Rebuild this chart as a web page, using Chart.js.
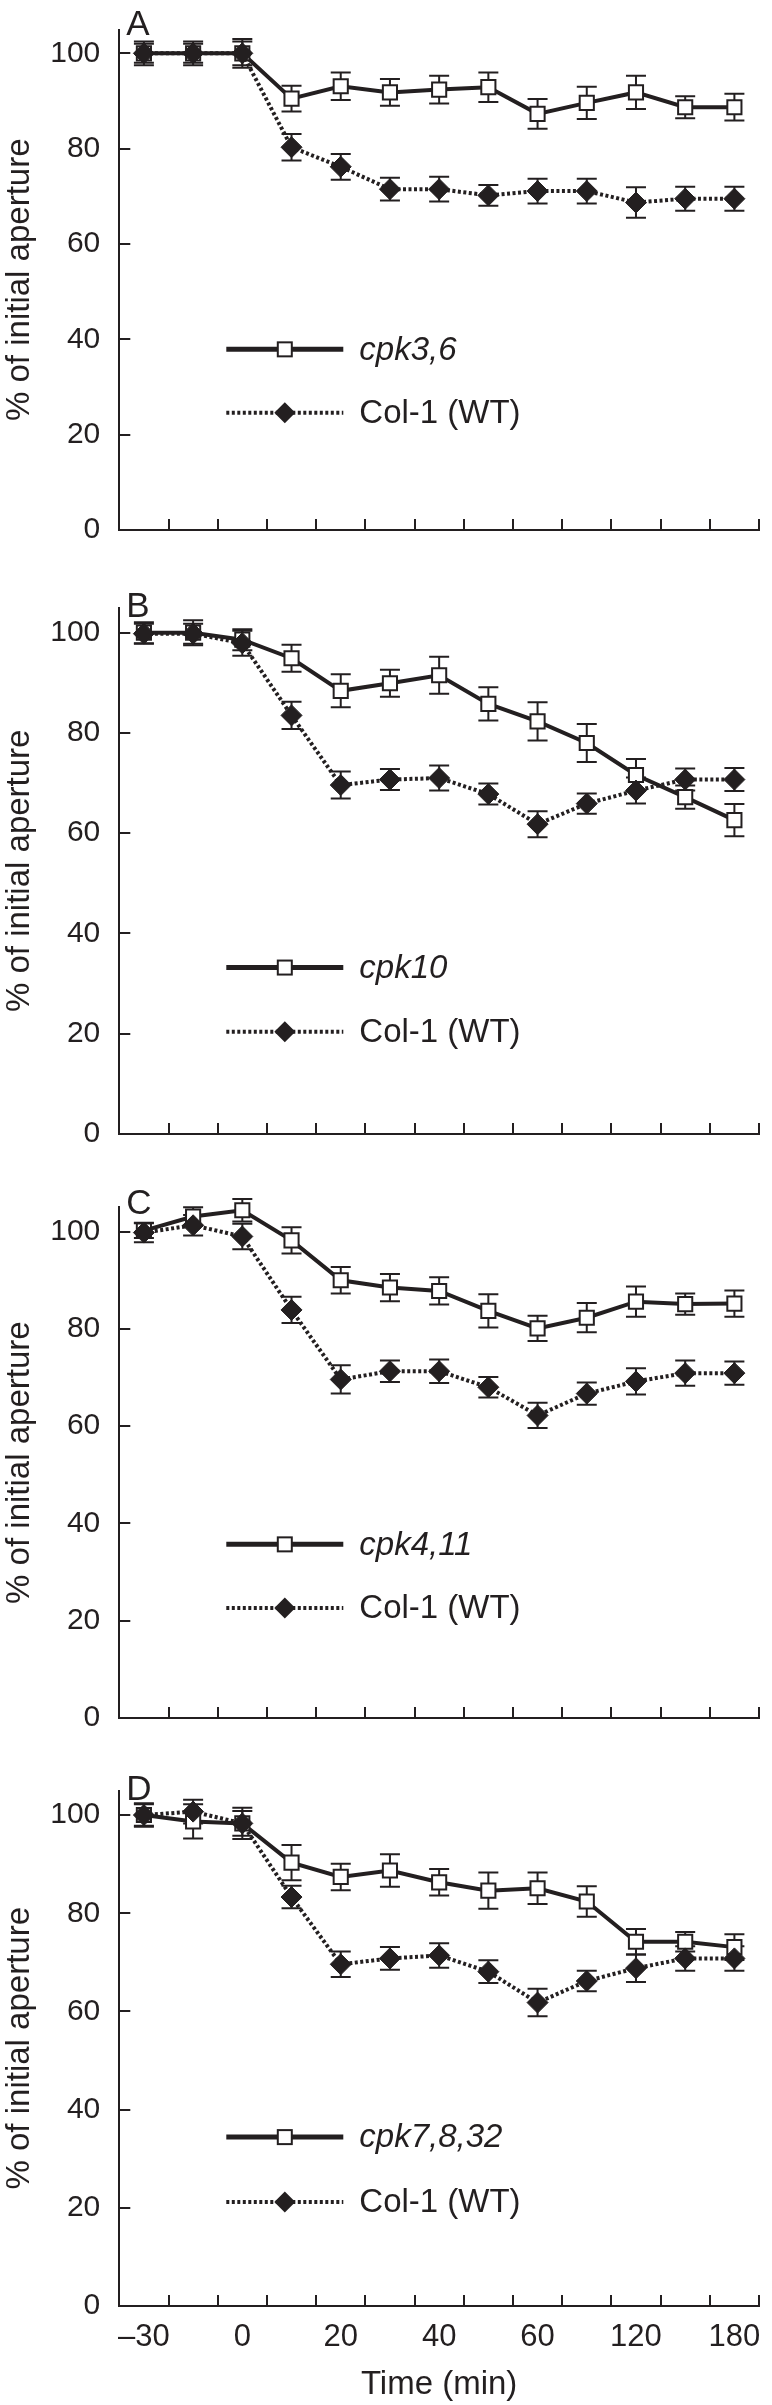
<!DOCTYPE html>
<html><head><meta charset="utf-8">
<script src="https://cdn.jsdelivr.net/npm/chart.js@4.4.0/dist/chart.umd.min.js"></script>
<style>
html,body{margin:0;padding:0;background:#fff;}
#wrap{position:relative;width:772px;height:2405px;overflow:hidden;}
#wrap canvas{position:absolute;left:0;}
</style></head><body><div id="wrap"></div>
<script>
// ---- data ----
const xTickLabels = ['\u201330','','0','','20','','40','','60','','120','','180'];
const yTicks = [0,20,40,60,80,100];
const wtName = 'Col-1 (WT)';

const A_name = 'cpk3,6';
const A_cpk = [100,100,100,90.5,93.1,91.8,92.4,92.9,87.3,89.6,91.8,88.7,88.7];
const A_cpk_err = [2,2,3,2.7,2.9,2.8,2.9,3.1,3.1,3.4,3.5,2.3,2.8];
const A_wt = [100,100,100,80.3,76.2,71.5,71.5,70.2,71.1,71.1,68.7,69.5,69.5];
const A_wt_err = [2.5,2.5,2.5,2.8,2.7,2.4,2.6,2.2,2.6,2.6,3.2,2.5,2.5];

const B_name = 'cpk10';
const B_cpk = [100,100,98.6,94.9,88.4,89.9,91.5,85.8,82.3,78.0,71.6,67.2,62.6];
const B_cpk_err = [2.1,2.5,2.1,2.7,3.3,2.7,3.7,3.3,3.8,3.8,3.2,2.3,3.2];
const B_wt = [99.8,99.8,97.9,83.5,69.6,70.7,71.0,67.8,61.8,65.9,68.5,70.7,70.7];
const B_wt_err = [2,2,2.5,2.7,2.7,2.1,2.5,2.1,2.6,2.0,2.6,2.2,2.3];

const C_name = 'cpk4,11';
const C_cpk = [100.2,103.1,104.4,98.2,90.0,88.5,87.8,83.7,80.1,82.3,85.6,85.1,85.2];
const C_cpk_err = [1.5,1.9,2.3,2.7,2.7,2.8,2.8,3.4,2.6,3.0,3.1,2.2,2.7];
const C_wt = [99.8,101.3,99.0,83.9,69.6,71.3,71.3,68.0,62.2,66.7,69.2,70.9,70.9];
const C_wt_err = [2,2.1,2.6,2.7,2.9,2.2,2.4,2.1,2.6,2.3,2.7,2.6,2.4];

const D_name = 'cpk7,8,32';
const D_cpk = [100,98.7,98.3,90.3,87.4,88.7,86.3,84.6,85.1,82.4,74.2,74.2,73.1];
const D_cpk_err = [2.2,3.5,2.5,3.6,2.7,3.3,2.7,3.7,3.2,3.1,2.6,2.0,2.6];
const D_wt = [100,100.7,98.3,83.3,69.6,70.8,71.4,68.1,61.8,66.2,68.8,70.8,70.8];
const D_wt_err = [2.4,2.4,3.2,2.3,2.6,2.3,2.5,2.3,2.8,2.1,2.8,2.5,2.5];

// ---- layout / style ----
const INK = '#231f20';
const FONT = "'Liberation Sans', Arial, Helvetica, sans-serif";

const panels = [
  {letter:'A', name:A_name, mut:A_cpk, mutErr:A_cpk_err, wt:A_wt, wtErr:A_wt_err,
   top:0, height:560, areaTop:29.5, areaBottom:530, legendY:[37.9,24.6], letterDy:5.5, showX:false},
  {letter:'B', name:B_name, mut:B_cpk, mutErr:B_cpk_err, wt:B_wt, wtErr:B_wt_err,
   top:560, height:590, areaTop:607.6, areaBottom:1134, legendY:[33.2,20.4], letterDy:9, showX:false},
  {letter:'C', name:C_name, mut:C_cpk, mutErr:C_cpk_err, wt:C_wt, wtErr:C_wt_err,
   top:1150, height:580, areaTop:1207.3, areaBottom:1718.3, legendY:[35.7,22.6], letterDy:7, showX:false},
  {letter:'D', name:D_name, mut:D_cpk, mutErr:D_cpk_err, wt:D_wt, wtErr:D_wt_err,
   top:1730, height:675, areaTop:1790.5, areaBottom:2306, legendY:[34.4,21.2], letterDy:9.5, showX:true}
];

function drawSquare(ctx, x, y, half) {
  ctx.fillStyle = '#fff';
  ctx.fillRect(x - half, y - half, 2 * half, 2 * half);
  ctx.lineWidth = 2; ctx.strokeStyle = INK; ctx.setLineDash([]);
  ctx.strokeRect(x - half, y - half, 2 * half, 2 * half);
}
function drawDiamond(ctx, x, y, r) {
  ctx.fillStyle = INK;
  ctx.beginPath();
  ctx.moveTo(x - r, y); ctx.lineTo(x, y - r); ctx.lineTo(x + r, y); ctx.lineTo(x, y + r);
  ctx.closePath(); ctx.fill();
}

function decor(p) {
  return {
    id: 'decor' + p.letter,
    beforeDatasetsDraw(chart) {
      const ctx = chart.ctx, ys = chart.scales.y;
      ctx.save();
      ctx.strokeStyle = INK; ctx.lineWidth = 2; ctx.setLineDash([]);
      chart.data.datasets.forEach((ds, di) => {
        const meta = chart.getDatasetMeta(di);
        meta.data.forEach((pt, i) => {
          const v = ds.data[i], e = ds.errors[i];
          const yt = ys.getPixelForValue(v + e), yb = ys.getPixelForValue(v - e);
          ctx.beginPath();
          ctx.moveTo(pt.x, yt); ctx.lineTo(pt.x, yb);
          ctx.moveTo(pt.x - 10, yt); ctx.lineTo(pt.x + 10, yt);
          ctx.moveTo(pt.x - 10, yb); ctx.lineTo(pt.x + 10, yb);
          ctx.stroke();
        });
      });
      ctx.restore();
    },
    afterDraw(chart) {
      const ctx = chart.ctx, a = chart.chartArea, ys = chart.scales.y, xs = chart.scales.x;
      ctx.save();
      ctx.strokeStyle = INK; ctx.lineWidth = 2; ctx.setLineDash([]);
      // inward y ticks
      yTicks.forEach(v => {
        if (v === 0) return;
        const y = Math.round(ys.getPixelForValue(v));
        ctx.beginPath(); ctx.moveTo(a.left, y); ctx.lineTo(a.left + 11, y); ctx.stroke();
      });
      // inward x ticks at category boundaries
      const n = xTickLabels.length;
      const half = (xs.getPixelForValue(1) - xs.getPixelForValue(0)) / 2;
      for (let i = 0; i < n; i++) {
        const bx = Math.round(xs.getPixelForValue(i) + half);
        ctx.beginPath(); ctx.moveTo(bx, a.bottom); ctx.lineTo(bx, a.bottom - 11); ctx.stroke();
      }
      // legend
      const lx0 = a.left + 107, lx1 = a.left + 224, lxm = (lx0 + lx1) / 2, tx = a.left + 240;
      ctx.textBaseline = 'middle'; ctx.textAlign = 'left'; ctx.fillStyle = INK;
      [0, 1].forEach(k => {
        const y = ys.getPixelForValue(p.legendY[k]);
        ctx.strokeStyle = INK; ctx.lineWidth = k === 0 ? 5 : 4;
        ctx.setLineDash(k === 0 ? [] : [3, 2.5]);
        ctx.beginPath(); ctx.moveTo(lx0, y); ctx.lineTo(lx1, y); ctx.stroke();
        ctx.setLineDash([]);
        if (k === 0) drawSquare(ctx, lxm, y, 7); else drawDiamond(ctx, lxm, y, 10.5);
        ctx.fillStyle = INK;
        ctx.font = (k === 0 ? 'italic ' : '') + '33px ' + FONT;
        ctx.fillText(k === 0 ? p.name : wtName, tx, y + 1);
      });
      // panel letter
      ctx.font = '35px ' + FONT; ctx.textBaseline = 'alphabetic'; ctx.fillStyle = INK;
      ctx.fillText(p.letter, a.left + 7, a.top + p.letterDy);
      ctx.restore();
    }
  };
}

const wrap = document.getElementById('wrap');
panels.forEach(p => {
  const cv = document.createElement('canvas');
  cv.width = 772; cv.height = p.height;
  cv.style.top = p.top + 'px'; cv.style.width = '772px'; cv.style.height = p.height + 'px';
  wrap.appendChild(cv);
  const padTop = p.areaTop - p.top;
  const padBottom = p.showX ? 0 : (p.top + p.height - p.areaBottom);
  new Chart(cv.getContext('2d'), {
    type: 'line',
    data: {
      labels: xTickLabels,
      datasets: [
        {label: p.name, data: p.mut, errors: p.mutErr, order: 1,
         borderColor: INK, borderWidth: 4, pointStyle: 'rect', pointRadius: 10,
         pointBackgroundColor: '#fff', pointBorderColor: INK, pointBorderWidth: 2,
         fill: false, tension: 0, clip: false},
        {label: wtName, data: p.wt, errors: p.wtErr, order: 0,
         borderColor: INK, borderWidth: 4, borderDash: [3, 2.5], pointStyle: 'rectRot', pointRadius: 10.5,
         pointBackgroundColor: INK, pointBorderColor: INK, pointBorderWidth: 1,
         fill: false, tension: 0, clip: false}
      ]
    },
    options: {
      responsive: false, animation: false, events: [], devicePixelRatio: 1,
      layout: {padding: {top: padTop, bottom: padBottom, left: 0, right: 13}},
      plugins: {legend: {display: false}, tooltip: {enabled: false}},
      scales: {
        x: {
          type: 'category', offset: true,
          grid: {display: false, drawTicks: false},
          border: {display: true, color: INK, width: 2},
          ticks: {display: p.showX, autoSkip: false, maxRotation: 0, minRotation: 0, padding: 13,
                  color: INK, font: {size: 31, family: FONT}},
          title: {display: p.showX, text: 'Time (min)', color: INK,
                  font: {size: 33, family: FONT}, padding: {top: 0, bottom: 0}},
          afterFit(s) { s.height = p.showX ? 99 : 0; s.paddingLeft = 0; s.paddingRight = 0; }
        },
        y: {
          min: 0, max: 105,
          afterBuildTicks(s) { s.ticks = yTicks.map(v => ({value: v})); },
          grid: {display: false, drawTicks: false},
          border: {display: true, color: INK, width: 2},
          ticks: {padding: 19, color: INK, font: {size: 30, family: FONT}},
          title: {display: true, text: '% of initial aperture', color: INK,
                  font: {size: 33, family: FONT}, padding: {top: 0, bottom: 0}},
          afterFit(s) { s.width = 119.3; s.paddingTop = 0; s.paddingBottom = 0; }
        }
      }
    },
    plugins: [decor(p)]
  });
});
</script></body></html>
